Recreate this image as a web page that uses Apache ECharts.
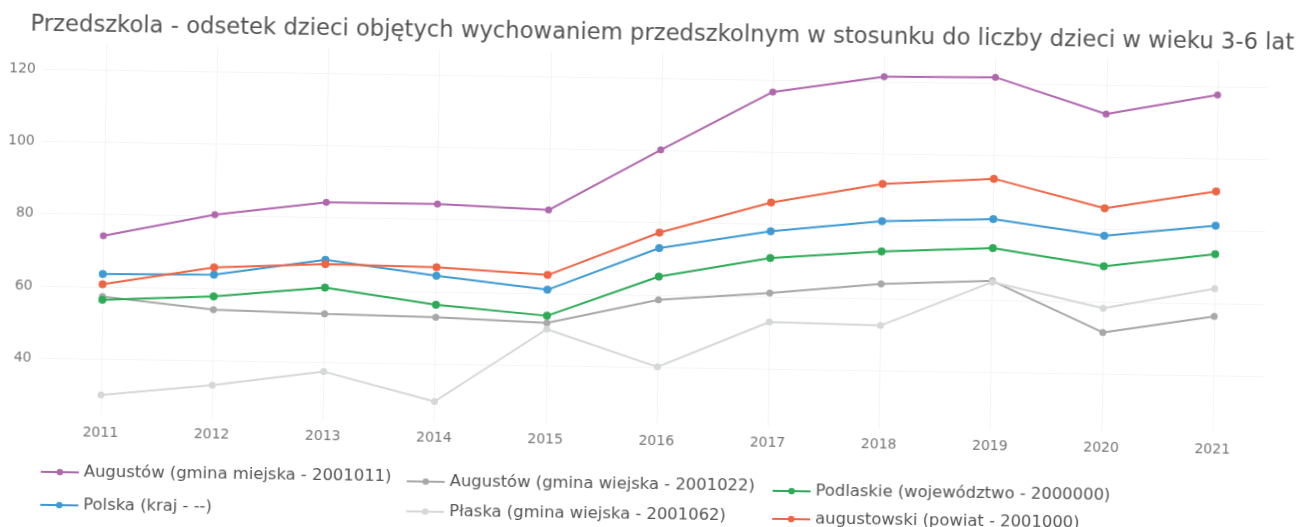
<!DOCTYPE html>
<html>
<head>
<meta charset="utf-8">
<script src="https://cdn.jsdelivr.net/npm/echarts@6/dist/echarts.min.js"></script>
<style>
  html, body { margin: 0; padding: 0; background: #fff; overflow: hidden; }
  #chart { width: 1305px; height: 527px; transform: rotate(0.86deg); transform-origin: 50% 50%; }
</style>
</head>
<body>
<div id="chart"></div>
<script>
// years on the x axis
const years = [2011, 2012, 2013, 2014, 2015, 2016, 2017, 2018, 2019, 2020, 2021];

// series names (legend)
const nameAugMiejska = "Augustów (gmina miejska - 2001011)";
const nameAugWiejska = "Augustów (gmina wiejska - 2001022)";
const namePodlaskie = "Podlaskie (województwo - 2000000)";
const namePolska = "Polska (kraj - --)";
const namePlaska = "Płaska (gmina wiejska - 2001062)";
const nameAugustowski = "augustowski (powiat - 2001000)";

// values (%)
const augMiejska = [74.1, 80.4, 84.3, 84.3, 83.1, 100.2, 116.7, 121.4, 121.7, 112.0, 117.7];
const augWiejska = [57.3, 54.1, 53.4, 52.9, 51.8, 58.7, 61.0, 64.0, 65.3, 51.5, 56.4];
const podlaskie = [56.4, 57.8, 60.7, 56.4, 53.8, 65.1, 70.7, 73.0, 74.4, 69.8, 73.6];
const polska = [63.5, 63.8, 68.4, 64.4, 61.0, 73.0, 78.1, 81.4, 82.4, 78.3, 81.5];
const plaska = [30.0, 33.2, 37.4, 29.6, 50.1, 40.1, 53.0, 52.5, 65.0, 58.2, 64.1];
const augustowski = [60.7, 65.8, 67.2, 66.8, 65.1, 77.3, 86.1, 91.7, 93.6, 85.9, 91.0];

const font = "DejaVu Sans";

const makeSeries = (name, data, color, size) => ({
  name: name,
  type: "line",
  data: years.map((y, i) => [y, data[i]]),
  symbol: "circle",
  symbolSize: size,
  lineStyle: { width: 2, color: color },
  itemStyle: { color: color },
  emphasis: { disabled: true },
});

// one legend per entry, so the columns line up like in the original
const makeLegend = (left, top, name) => ({
  left: left,
  top: top,
  padding: 0,
  itemWidth: 38,
  itemHeight: 8,
  data: [name],
  textStyle: { fontFamily: font, fontSize: 16.4, color: "#555" },
});

const option = {
  animation: false,
  title: {
    text: "Przedszkola - odsetek dzieci objętych wychowaniem przedszkolnym w stosunku do liczby dzieci w wieku 3-6 lat",
    left: 22,
    top: 18,
    textStyle: { fontFamily: font, fontSize: 22.7, fontWeight: "normal", color: "#555" },
  },
  legend: [
    makeLegend(43, 473, nameAugMiejska),
    makeLegend(43, 506, namePolska),
    makeLegend(409, 477, nameAugWiejska),
    makeLegend(409, 507, namePlaska),
    makeLegend(775, 481, namePodlaskie),
    makeLegend(775, 509, nameAugustowski),
  ],
  grid: { left: 40, right: 40, top: 53, height: 372 },
  xAxis: {
    type: "value",
    min: 2010.4334,
    max: 2021.4496,
    splitNumber: 11,
    axisLine: { show: false },
    axisTick: { show: false },
    axisLabel: {
      fontFamily: font, fontSize: 14, color: "#777", margin: 9,
      showMinLabel: false, showMaxLabel: false,
      formatter: (v) => String(v),
    },
    splitLine: { show: true, showMinLine: false, showMaxLine: false, lineStyle: { color: "#f3f4f4", width: 1 } },
  },
  yAxis: {
    type: "value",
    min: 24,
    max: 127,
    splitNumber: 5,
    axisLine: { show: false },
    axisTick: { show: false },
    axisLabel: { fontFamily: font, fontSize: 14, color: "#777", margin: 7, showMinLabel: false, showMaxLabel: false },
    splitLine: { show: true, showMinLine: false, showMaxLine: false, lineStyle: { color: "#f4f5f5", width: 1 } },
  },
  series: [
    makeSeries(nameAugMiejska, augMiejska, "#b068ad", 7),
    makeSeries(nameAugWiejska, augWiejska, "#a8a8a8", 7),
    makeSeries(namePodlaskie, podlaskie, "#2eaa57", 8),
    makeSeries(namePolska, polska, "#3f9ad3", 8),
    makeSeries(namePlaska, plaska, "#d6d8d8", 7),
    makeSeries(nameAugustowski, augustowski, "#ee6546", 8),
  ],
};

const myChart = echarts.init(document.getElementById("chart"));
myChart.setOption(option);
</script>
</body>
</html>
